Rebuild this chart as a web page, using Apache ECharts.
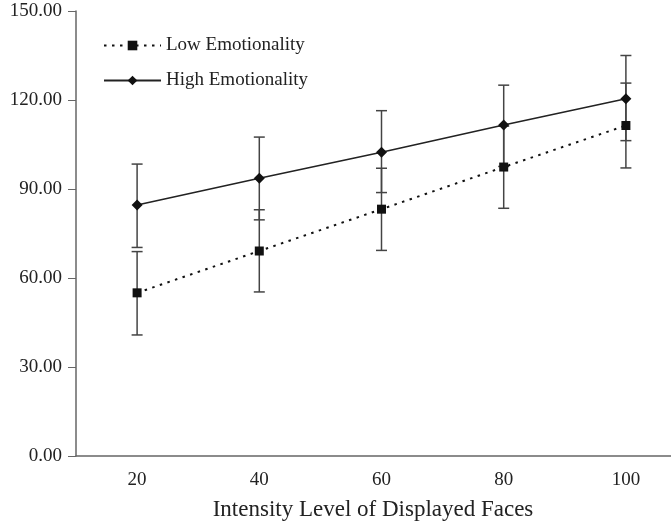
<!DOCTYPE html>
<html>
<head>
<meta charset="utf-8">
<script src="https://cdn.jsdelivr.net/npm/echarts@6/dist/echarts.min.js"></script>
<style>
  html, body { margin: 0; padding: 0; background: #fff; }
  #chart { width: 671px; height: 532px; }
</style>
</head>
<body>
<div id="chart"></div>
<script>
const intensity = ['20', '40', '60', '80', '100']

const lowMean = [55.0, 69.1, 83.2, 97.4, 111.4]
const lowLower = [40.8, 55.3, 69.3, 83.5, 97.1]
const lowUpper = [68.9, 83.0, 97.0, 111.2, 125.7]

const highMean = [84.6, 93.6, 102.4, 111.6, 120.4]
const highLower = [70.3, 79.6, 88.8, 97.6, 106.3]
const highUpper = [98.4, 107.5, 116.4, 125.0, 135.0]

const yTicks = { min: 0, max: 150, interval: 30 }

const serif = 'Liberation Serif'

// error bars: [categoryIndex, lower, upper]
function errorData(lower, upper) {
  return intensity.map((_, i) => [i, lower[i], upper[i]])
}

function renderErrorBar(params, api) {
  const idx = api.value(0)
  const top = api.coord([idx, api.value(2)])
  const bot = api.coord([idx, api.value(1)])
  const hw = 5.5
  const style = { stroke: '#444', lineWidth: 1.5 }
  return {
    type: 'group',
    children: [
      { type: 'line', shape: { x1: top[0], y1: top[1], x2: bot[0], y2: bot[1] }, style },
      { type: 'line', shape: { x1: top[0] - hw, y1: top[1], x2: top[0] + hw, y2: top[1] }, style },
      { type: 'line', shape: { x1: bot[0] - hw, y1: bot[1], x2: bot[0] + hw, y2: bot[1] }, style },
    ],
  }
}

const chart = echarts.init(document.getElementById('chart'))

chart.setOption({
  animation: false,
  backgroundColor: '#fff',
  grid: {
    left: 76,
    top: 11,
    right: -16,
    bottom: 76,
    containLabel: false,
    outerBoundsMode: 'none',
  },
  legend: {
    data: ['Low Emotionality', 'High Emotionality'],
    orient: 'vertical',
    left: 98,
    top: 31,
    itemWidth: 57,
    itemHeight: 12,
    itemGap: 16,
    textStyle: { fontFamily: serif, fontSize: 19, color: '#222' },
    selectedMode: false,
  },
  xAxis: {
    type: 'category',
    data: intensity,
    boundaryGap: true,
    axisLine: { lineStyle: { color: '#666', width: 1.5 } },
    axisTick: { length: 6, lineStyle: { color: '#666' } },
    axisLabel: { fontFamily: serif, fontSize: 19, color: '#222', margin: 15 },
    splitLine: { show: false },
  },
  yAxis: {
    type: 'value',
    min: yTicks.min,
    max: yTicks.max,
    interval: yTicks.interval,
    axisLine: { show: true, lineStyle: { color: '#666', width: 1.5 } },
    axisTick: { show: true, length: 8, lineStyle: { color: '#666' } },
    axisLabel: {
      fontFamily: serif,
      fontSize: 19,
      color: '#222',
      margin: 14,
      formatter: v => v.toFixed(2),
    },
    splitLine: { show: false },
  },
  graphic: [
    {
      type: 'text',
      x: 373,
      y: 510,
      style: {
        text: 'Intensity Level of Displayed Faces',
        font: `23px "${serif}"`,
        fill: '#222',
        align: 'center',
        verticalAlign: 'middle',
      },
    },
  ],
  series: [
    {
      name: 'Low error',
      type: 'custom',
      renderItem: renderErrorBar,
      data: errorData(lowLower, lowUpper),
      z: 1,
      silent: true,
    },
    {
      name: 'High error',
      type: 'custom',
      renderItem: renderErrorBar,
      data: errorData(highLower, highUpper),
      z: 1,
      silent: true,
    },
    {
      name: 'Low Emotionality',
      type: 'line',
      data: lowMean,
      symbol: 'rect',
      symbolSize: 9,
      lineStyle: { color: '#111', width: 2, type: [2.5, 5.5] },
      itemStyle: { color: '#111' },
      z: 3,
    },
    {
      name: 'High Emotionality',
      type: 'line',
      data: highMean,
      symbol: 'diamond',
      symbolSize: 11,
      lineStyle: { color: '#222', width: 1.6 },
      itemStyle: { color: '#111' },
      z: 3,
    },
  ],
})
</script>
</body>
</html>
